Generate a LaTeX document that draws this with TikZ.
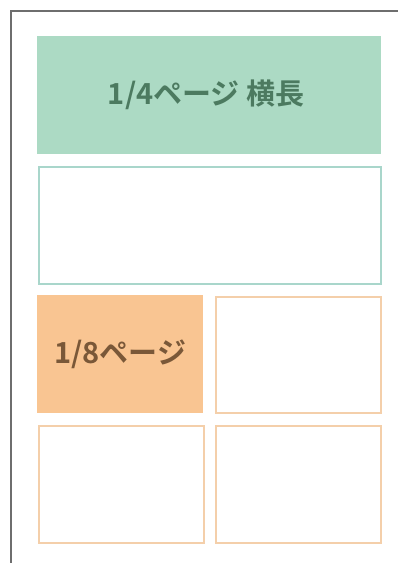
\documentclass[tikz,border=0pt]{standalone}
\usepackage{fontspec}
\newfontfamily\cjk{Noto Sans CJK JP Bold}
\definecolor{greenfill}{HTML}{ACDAC4}
\definecolor{greentext}{HTML}{4C7A60}
\definecolor{tealline}{HTML}{A9D6CB}
\definecolor{orangefill}{HTML}{F9C592}
\definecolor{orangeline}{HTML}{F4CFAA}
\definecolor{browntext}{HTML}{7A5838}
\definecolor{frameline}{HTML}{6E6E6E}
\tikzset{
  boxfill/.style={draw=none, inner sep=0pt, anchor=north west},
  boxline/.style={line width=2pt, inner sep=0pt, anchor=north west, fill=white},
  label/.style={font=\cjk\fontsize{29}{29}\selectfont}
}
\begin{document}
\begin{tikzpicture}[x=1pt,y=-1pt]
\useasboundingbox (0,0) rectangle (398,563);
\fill[white] (0,0) rectangle (398,563);
\coordinate (ftop) at (398,10.5);
\coordinate (fcorner) at (10.5,10.5);
\coordinate (fbot) at (10.5,563);
\draw[frameline, line width=2pt] (ftop) -- (fcorner) -- (fbot);
\node[boxfill, fill=greenfill, minimum width=344pt, minimum height=118pt] (q1) at (37,36) {};
\node[label, text=greentext] (q1t) at ([xshift=-3pt]q1.center) {1/4ページ 横長};
\node[boxline, draw=tealline, minimum width=342pt, minimum height=117pt] (q2) at (38,166) {};
\node[boxfill, fill=orangefill, minimum width=166pt, minimum height=118pt] (e1) at (37,295) {};
\node[label, text=browntext] (e1t) at (e1.center) {1/8ページ};
\node[boxline, draw=orangeline, minimum width=165pt, minimum height=116pt] (e2) at (215,296) {};
\node[boxline, draw=orangeline, minimum width=165pt, minimum height=117pt] (e3) at (38,425) {};
\node[boxline, draw=orangeline, minimum width=165pt, minimum height=117pt] (e4) at (215,425) {};
\end{tikzpicture}
\end{document}
